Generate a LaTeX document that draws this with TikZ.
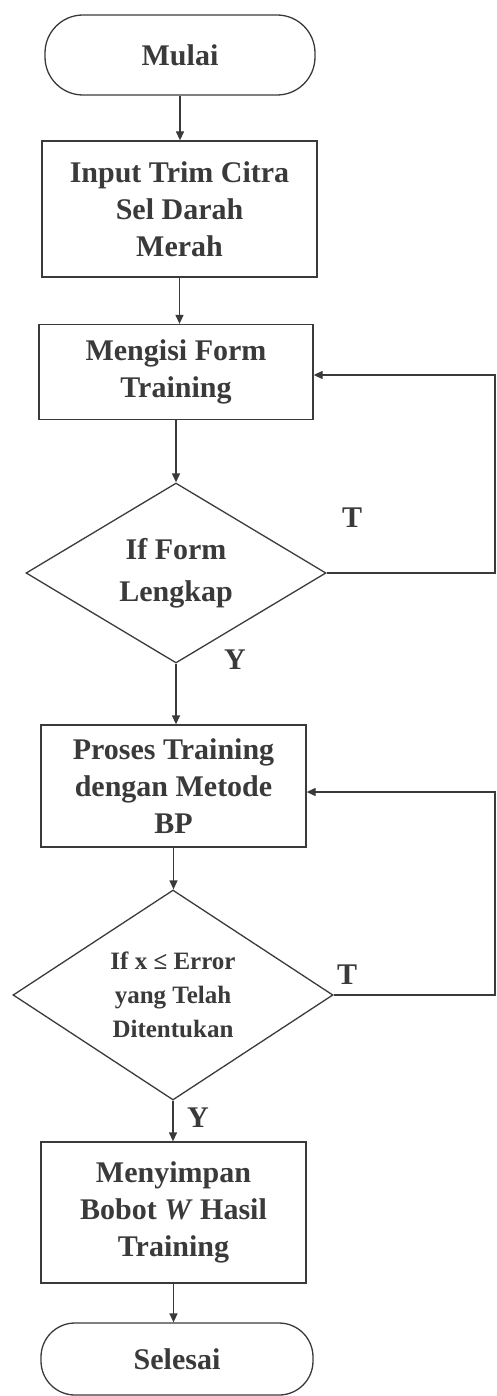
\documentclass[tikz,border=0pt]{standalone}
\usepackage{fontspec}
\setmainfont{Liberation Serif}
\usetikzlibrary{shapes.geometric,arrows.meta}
\definecolor{ink}{HTML}{3A3A3A}
\tikzset{
  every node/.style={text=ink},
  term/.style={draw=ink, line width=1.3pt, rectangle, rounded corners=34pt, inner sep=0pt, font=\bfseries\fontsize{30}{37}\selectfont},
  procbox/.style={draw=ink, line width=1.3pt, rectangle, inner sep=0pt, align=center, font=\bfseries\fontsize{30}{37}\selectfont},
  decbox/.style={draw=ink, line width=1.3pt, diamond, inner sep=0pt, align=center},
  lbl/.style={font=\bfseries\fontsize{30}{37}\selectfont},
  arr/.style={draw=ink, line width=1.3pt, -{Triangle[length=9pt,width=8pt]}},
  ln/.style={draw=ink, line width=1.3pt}
}
\begin{document}
\begin{tikzpicture}[x=1pt,y=-1pt]
\useasboundingbox (0,0) rectangle (497,1396);
\node[term, minimum width=270pt, minimum height=80pt, rounded corners=38pt] (mulai) at (180,55) {Mulai};
\node[procbox, minimum width=275pt, minimum height=136pt] (input) at (179.5,209) {Input Trim Citra\\Sel Darah\\Merah};
\node[procbox, minimum width=274pt, minimum height=95pt] (isi) at (176,372) {Mengisi Form\\Training};
\node[decbox, minimum width=300pt, minimum height=180pt, aspect=1.67, font=\bfseries\fontsize{30}{42}\selectfont] (d1) at (176,573) {If Form\\Lengkap};
\node[procbox, minimum width=265pt, minimum height=122pt] (proses) at (173.5,786) {Proses Training\\dengan Metode\\BP};
\node[decbox, minimum width=320pt, minimum height=210pt, aspect=1.52, font=\bfseries\fontsize{25}{34}\selectfont] (d2) at (173,995) {If x ≤ Error\\yang Telah\\Ditentukan};
\node[procbox, minimum width=265pt, minimum height=141pt] (simpan) at (173.5,1212.5) {Menyimpan\\Bobot \textit{W} Hasil\\Training};
\node[term, minimum width=272pt, minimum height=72pt] (selesai) at (177,1359) {Selesai};

\coordinate (r1) at (495,573);
\coordinate (r2) at (495,995);

\draw[arr] (mulai.south) -- (mulai.south |- input.north);
\draw[arr] (input.south) -- (input.south |- isi.north);
\draw[arr] (isi.south) -- (isi.south |- d1.north);
\draw[arr] (d1.south) -- (d1.south |- proses.north);
\draw[arr] (proses.south) -- (proses.south |- d2.north);
\draw[arr] (d2.south) -- (d2.south |- simpan.north);
\draw[arr] (simpan.south) -- (simpan.south |- selesai.north);

\draw[arr] (d1.east) -- (r1) |- ([yshift=-3pt]isi.east);
\draw[arr] (d2.east) -- (r2) |- ([yshift=-6pt]proses.east);

\node[lbl] (t1) at (352,518) {T};
\node[lbl] (y1) at (235,660) {Y};
\node[lbl] (t2) at (347,975) {T};
\node[lbl] (y2) at (198,1118) {Y};
\end{tikzpicture}
\end{document}
